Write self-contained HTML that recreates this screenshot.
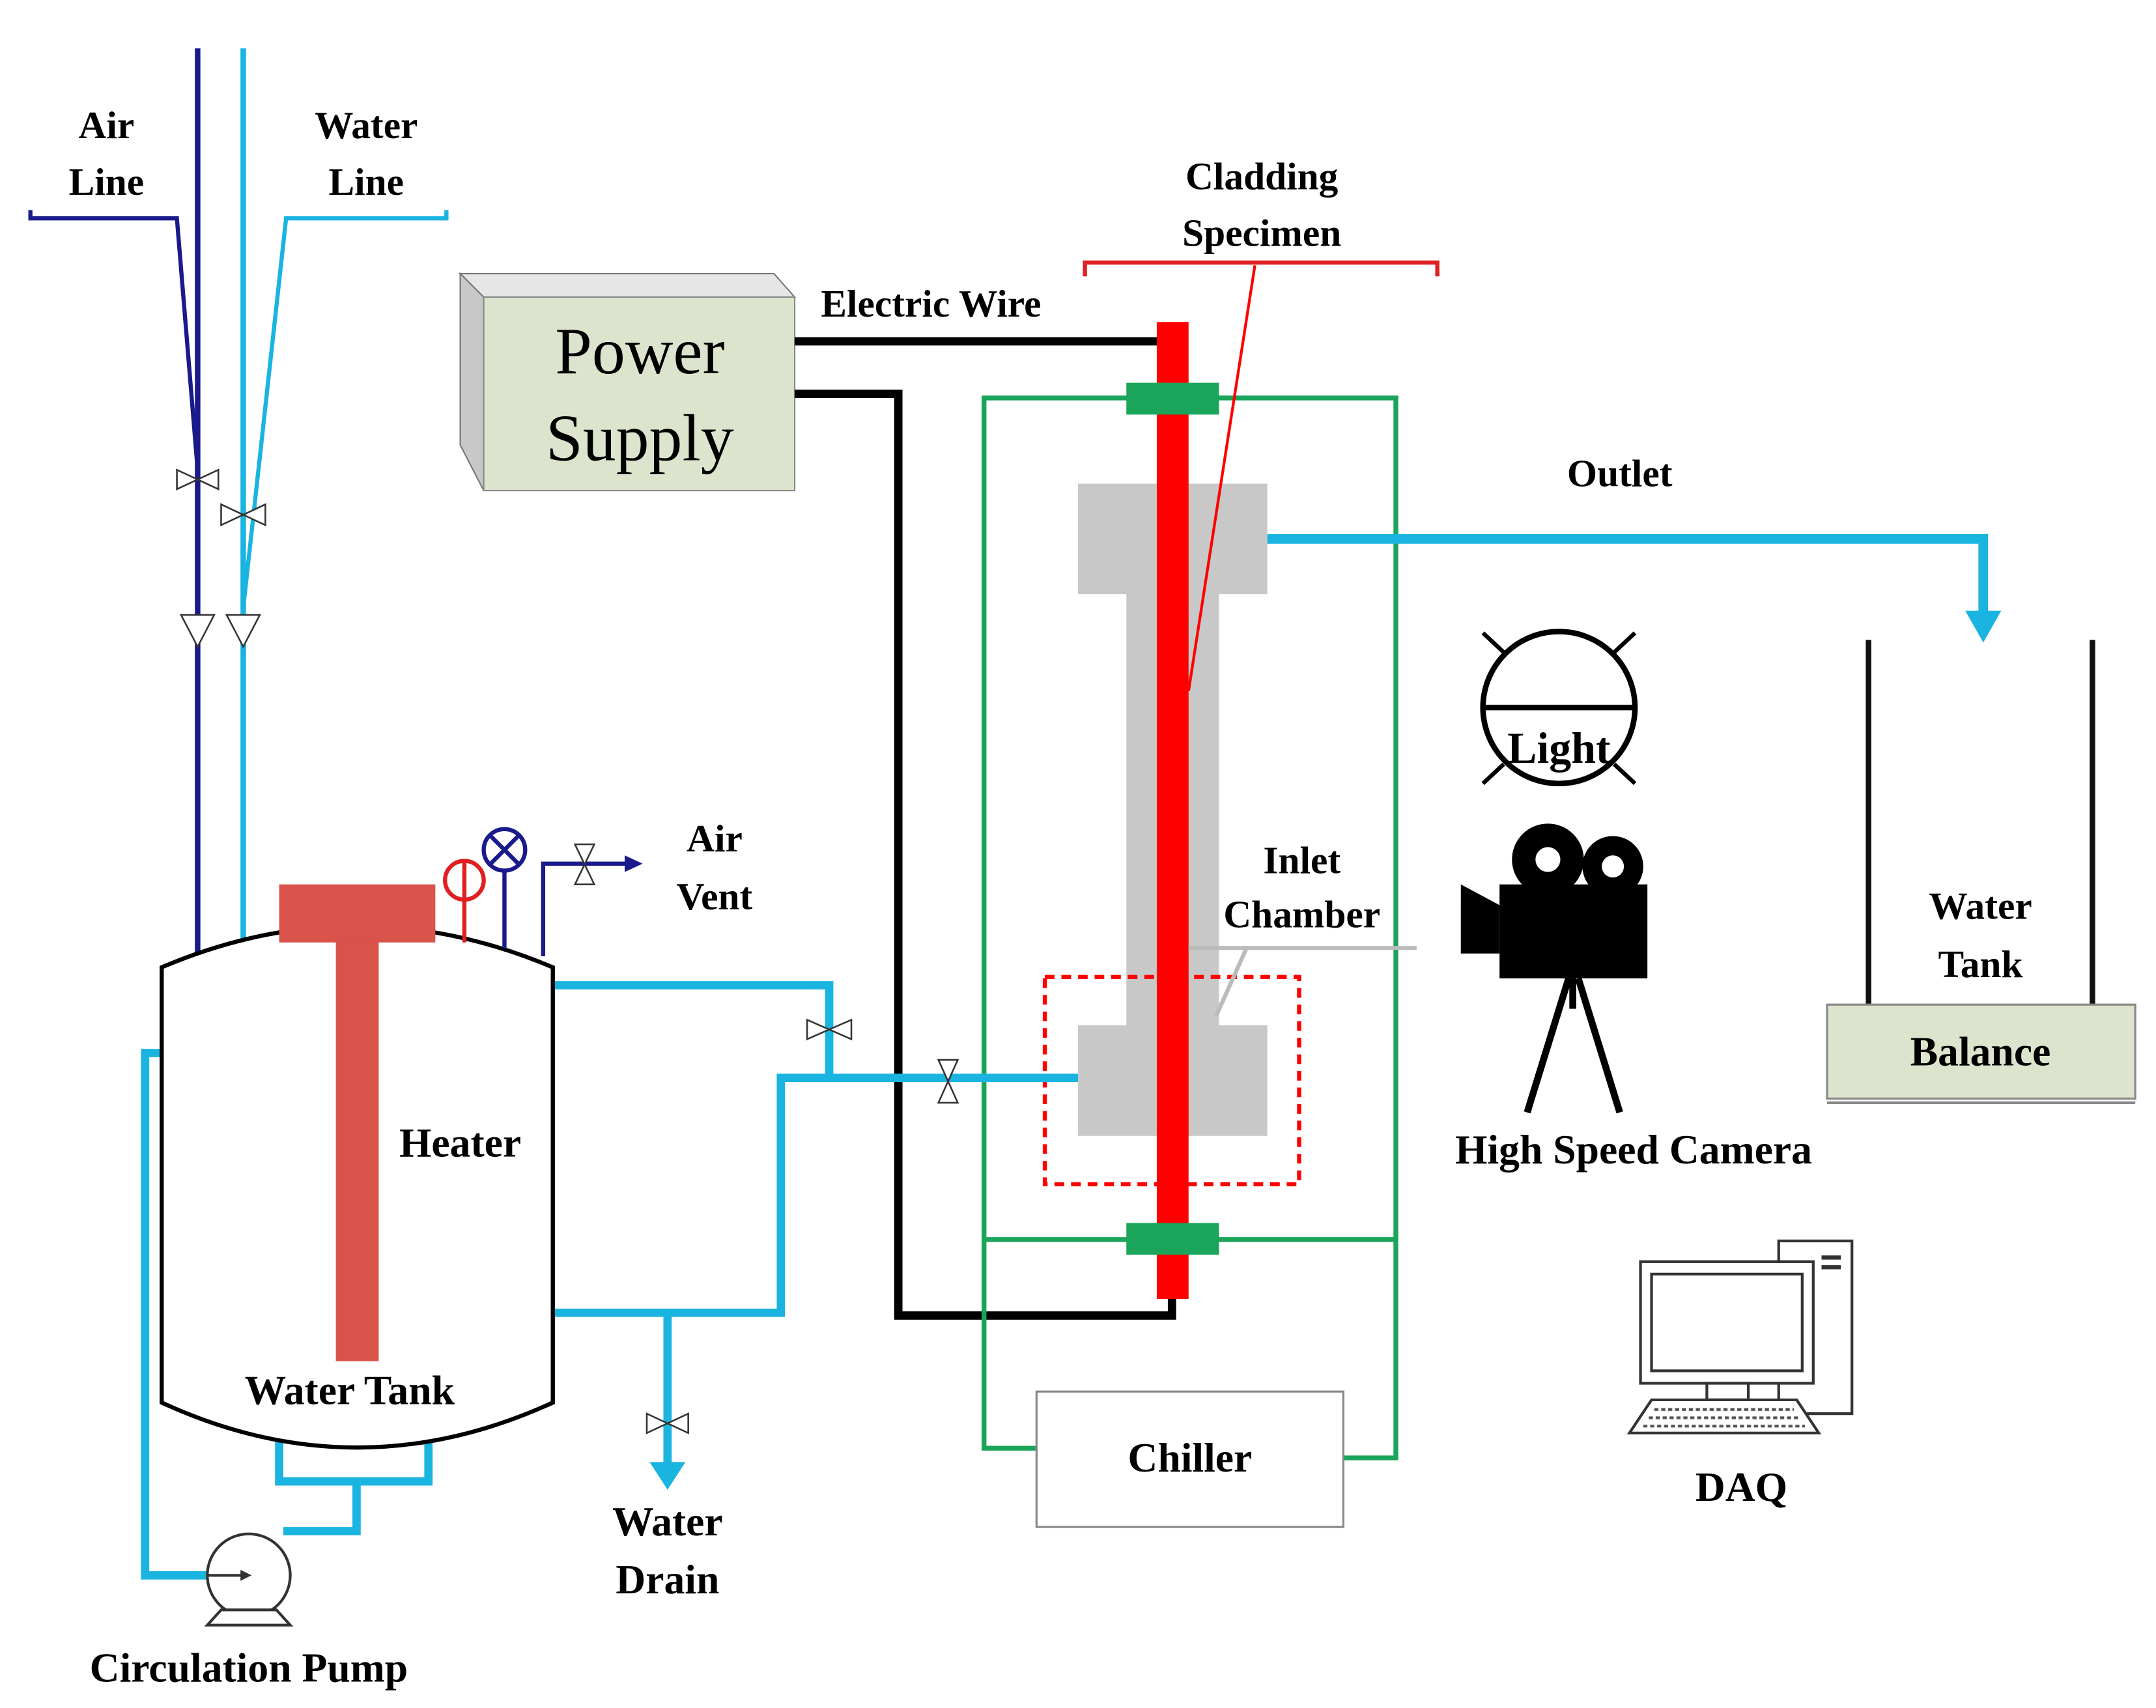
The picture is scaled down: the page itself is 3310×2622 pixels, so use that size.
<!DOCTYPE html>
<html><head><meta charset="utf-8"><style>html,body{margin:0;padding:0;background:#fff}svg{display:block}text{font-family:"Liberation Serif",serif;font-weight:bold;fill:#000}</style></head><body>
<svg width="3310" height="2622" viewBox="0 0 1560 1236" preserveAspectRatio="none" xmlns="http://www.w3.org/2000/svg">
<rect width="1560" height="1236" fill="#fff"/>
<line x1="143" y1="35" x2="143" y2="690" stroke="#1a1a8c" stroke-width="4"/>
<line x1="176" y1="35" x2="176" y2="680" stroke="#1ab4e0" stroke-width="4"/>
<polyline points="22,152 22,158 128,158 143,340" fill="none" stroke="#1a1a8c" stroke-width="3"/>
<polyline points="323,152 323,158 207,158 176,440" fill="none" stroke="#1ab4e0" stroke-width="3"/>
<g fill="#fff" stroke="#333" stroke-width="1.2">
<polygon points="128,340 158,354 158,340 128,354"/>
<polygon points="160,365 192,380 192,365 160,380"/>
<polygon points="131,445 155,445 143,468"/>
<polygon points="164,445 188,445 176,468"/>
</g>
<text x="77" y="100" font-size="28" text-anchor="middle">Air</text>
<text x="77" y="141" font-size="28" text-anchor="middle">Line</text>
<text x="265" y="100" font-size="28" text-anchor="middle">Water</text>
<text x="265" y="141" font-size="28" text-anchor="middle">Line</text>
<polygon points="333,198 560,198 575,215 350,215" fill="#e6e6e6" stroke="#777"/>
<polygon points="333,198 350,215 350,355 333,322" fill="#c8c8c8" stroke="#777"/>
<rect x="350" y="215" width="225" height="140" fill="#dde4cd" stroke="#888"/>
<text x="463" y="270" font-size="48" text-anchor="middle" style="font-weight:normal">Power</text>
<text x="463" y="333" font-size="48" text-anchor="middle" style="font-weight:normal">Supply</text>
<text x="594" y="229" font-size="28">Electric Wire</text>
<polyline points="575,247 848,247" fill="none" stroke="#000" stroke-width="6"/>
<polyline points="575,285 650,285 650,952 848,952 848,935" fill="none" stroke="#000" stroke-width="6"/>
<g stroke="#1aa55a" stroke-width="3.5" fill="none">
<polyline points="750,1048 712,1048 712,288 1010,288 1010,1055 972,1055"/>
<line x1="712" y1="897" x2="1010" y2="897"/>
</g>
<rect x="750" y="1007" width="222" height="98" fill="#fff" stroke="#888" stroke-width="1.5"/>
<text x="861" y="1065" font-size="30" text-anchor="middle">Chiller</text>
<path d="M780,350 H917 V430 H882 V742 H917 V822 H780 V742 H815 V430 H780 Z" fill="#c8c8c8"/>
<rect x="837" y="233" width="23" height="707" fill="#ff0000"/>
<rect x="815" y="277" width="67" height="23" fill="#1aa55a"/>
<rect x="815" y="885" width="67" height="23" fill="#1aa55a"/>
<rect x="756" y="707" width="184" height="150" fill="none" stroke="#ff0000" stroke-width="3" stroke-dasharray="7,5"/>
<polyline points="785,200 785,190 1040,190 1040,200" fill="none" stroke="#e02020" stroke-width="3"/>
<line x1="908" y1="192" x2="860" y2="500" stroke="#ff0000" stroke-width="2"/>
<text x="913" y="137" font-size="28" text-anchor="middle">Cladding</text>
<text x="913" y="178" font-size="28" text-anchor="middle">Specimen</text>
<polyline points="1025,686 860,686" stroke="#bbb" stroke-width="3" fill="none"/>
<line x1="902" y1="686" x2="880" y2="735" stroke="#bbb" stroke-width="3"/>
<text x="942" y="632" font-size="28" text-anchor="middle">Inlet</text>
<text x="942" y="671" font-size="28" text-anchor="middle">Chamber</text>
<polyline points="917,390 1435,390 1435,448" fill="none" stroke="#1ab4e0" stroke-width="7"/>
<polygon points="1422,442 1448,442 1435,465" fill="#1ab4e0"/>
<text x="1172" y="352" font-size="28" text-anchor="middle">Outlet</text>
<line x1="1352" y1="463" x2="1352" y2="727" stroke="#111" stroke-width="4"/>
<line x1="1514" y1="463" x2="1514" y2="727" stroke="#111" stroke-width="4"/>
<rect x="1322" y="727" width="223" height="68" fill="#dde4cd" stroke="#888" stroke-width="1.5"/>
<line x1="1322" y1="798" x2="1545" y2="798" stroke="#888" stroke-width="2"/>
<text x="1433" y="665" font-size="28" text-anchor="middle">Water</text>
<text x="1433" y="707" font-size="28" text-anchor="middle">Tank</text>
<text x="1433" y="771" font-size="30" text-anchor="middle">Balance</text>
<circle cx="1128" cy="512" r="55" fill="#fff" stroke="#000" stroke-width="4"/>
<line x1="1073" y1="512" x2="1183" y2="512" stroke="#000" stroke-width="4"/>
<g stroke="#000" stroke-width="3"><line x1="1073" y1="458" x2="1088" y2="472"/><line x1="1183" y1="458" x2="1168" y2="472"/><line x1="1073" y1="567" x2="1088" y2="553"/><line x1="1183" y1="567" x2="1168" y2="553"/></g>
<text x="1128" y="552" font-size="32" text-anchor="middle">Light</text>
<circle cx="1120" cy="622" r="26" fill="#000"/>
<circle cx="1167" cy="627" r="22" fill="#000"/>
<rect x="1085" y="640" width="107" height="68" fill="#000"/>
<polygon points="1057,640 1085,655 1085,690 1057,690" fill="#000"/>
<circle cx="1120" cy="622" r="9" fill="#fff"/><circle cx="1167" cy="627" r="8" fill="#fff"/>
<g stroke="#000" stroke-width="5"><line x1="1135" y1="708" x2="1105" y2="805"/><line x1="1142" y1="708" x2="1172" y2="805"/><line x1="1138" y1="708" x2="1138" y2="730"/></g>
<text x="1182" y="842" font-size="30" text-anchor="middle">High Speed Camera</text>
<g fill="#fff" stroke="#333" stroke-width="2">
<rect x="1287" y="898" width="53" height="125"/>
<rect x="1187" y="913" width="125" height="88"/>
<rect x="1195" y="922" width="109" height="70"/>
<rect x="1235" y="1001" width="30" height="12"/>
<polygon points="1195,1013 1300,1013 1316,1037 1179,1037"/>
</g>
<line x1="1318" y1="910" x2="1332" y2="910" stroke="#333" stroke-width="3"/>
<line x1="1318" y1="917" x2="1332" y2="917" stroke="#333" stroke-width="3"/>
<g stroke="#555" stroke-width="2" stroke-dasharray="3,2"><line x1="1197" y1="1020" x2="1298" y2="1020"/><line x1="1193" y1="1026" x2="1302" y2="1026"/><line x1="1189" y1="1032" x2="1306" y2="1032"/></g>
<text x="1260" y="1086" font-size="30" text-anchor="middle">DAQ</text>
<g stroke="#1ab4e0" stroke-width="6" fill="none">
<polyline points="400,713 600,713 600,780"/>
<polyline points="780,780 565,780 565,950 400,950"/>
<polyline points="483,950 483,1062"/>
<polyline points="117,762 105,762 105,1140 150,1140"/>
<polyline points="202,1040 202,1072 310,1072 310,1040"/>
<polyline points="258,1072 258,1108 205,1108"/>
</g>
<polygon points="470,1058 496,1058 483,1078" fill="#1ab4e0"/>
<g fill="#fff" stroke="#333" stroke-width="1.2">
<polygon points="584,738 616,752 616,738 584,752"/>
<polygon points="679,767 693,767 679,798 693,798"/>
<polygon points="468,1023 498,1037 498,1023 468,1037"/>
</g>
<path d="M117,700 Q258,640 400,700 L400,1015 Q258,1080 117,1015 Z" fill="#fff" stroke="#000" stroke-width="3"/>
<rect x="202" y="640" width="113" height="42" fill="#d9534a"/>
<rect x="243" y="680" width="31" height="305" fill="#d9534a"/>
<text x="333" y="837" font-size="30" text-anchor="middle">Heater</text>
<text x="253" y="1016" font-size="30" text-anchor="middle">Water Tank</text>
<line x1="336" y1="651" x2="336" y2="682" stroke="#e02020" stroke-width="3"/>
<circle cx="336" cy="637" r="14" fill="#fff" stroke="#e02020" stroke-width="3"/>
<line x1="336" y1="623" x2="336" y2="651" stroke="#e02020" stroke-width="3"/>
<line x1="365" y1="630" x2="365" y2="686" stroke="#1a1a8c" stroke-width="3"/>
<circle cx="365" cy="615" r="15" fill="#fff" stroke="#1a1a8c" stroke-width="3"/>
<g stroke="#1a1a8c" stroke-width="3"><line x1="355" y1="605" x2="375" y2="625"/><line x1="375" y1="605" x2="355" y2="625"/></g>
<polyline points="393,692 393,625 455,625" fill="none" stroke="#1a1a8c" stroke-width="3"/>
<polygon points="452,619 465,625 452,631" fill="#1a1a8c"/>
<polygon points="416,611 430,611 416,640 430,640" fill="#fff" stroke="#333" stroke-width="1.2"/>
<text x="517" y="616" font-size="28" text-anchor="middle">Air</text>
<text x="517" y="658" font-size="28" text-anchor="middle">Vent</text>
<circle cx="180" cy="1140" r="30" fill="#fff" stroke="#333" stroke-width="2"/>
<polygon points="160,1165 150,1176 210,1176 200,1165" fill="#fff" stroke="#333" stroke-width="2"/>
<line x1="150" y1="1140" x2="178" y2="1140" stroke="#333" stroke-width="2"/>
<polygon points="174,1136 182,1140 174,1144" fill="#333"/>
<text x="180" y="1217" font-size="30" text-anchor="middle">Circulation Pump</text>
<text x="483" y="1111" font-size="30" text-anchor="middle">Water</text>
<text x="483" y="1153" font-size="30" text-anchor="middle">Drain</text>
</svg>
</body></html>
